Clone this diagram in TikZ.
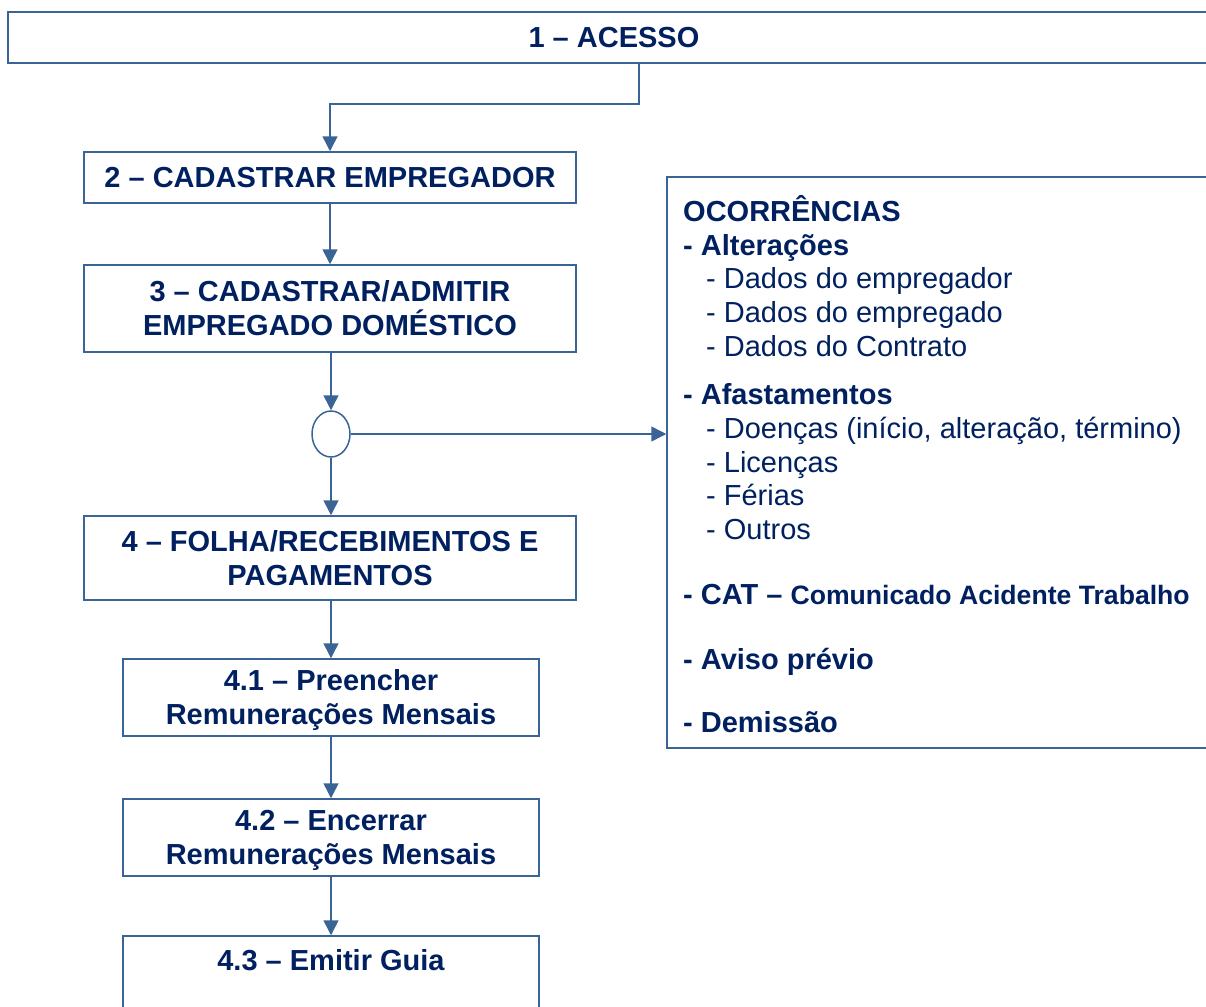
\documentclass[tikz,border=0pt]{standalone}
\usepackage{fontspec}
\setmainfont{Liberation Sans}
\usetikzlibrary{shapes.geometric,arrows.meta}
\definecolor{navy}{HTML}{002060}
\definecolor{linha}{HTML}{3A6496}
\begin{document}
\begin{tikzpicture}[x=1pt,y=-1pt,
        caixa/.style={draw=linha,line width=1.5pt,text=navy,align=center,inner sep=0pt,font=\fontsize{29}{34}\selectfont\bfseries},
        item/.style={anchor=base west,text=navy,inner sep=0pt,font=\fontsize{29}{34}\selectfont},
        titulo/.style={item,font=\fontsize{29}{34}\selectfont\bfseries},
        seta/.style={draw=linha,line width=1.5pt,-{Triangle[length=15pt,width=15pt]}}]
    \useasboundingbox (0,0) rectangle (1206,1006);
    % fluxo principal
    \node (acesso) at (614,37.5) [caixa,minimum width=1212,minimum height=51] {1 – ACESSO};
    \node (cademp) at (330,177.5) [caixa,minimum width=492,minimum height=51] {2 – CADASTRAR EMPREGADOR};
    \node (cadempd) at (330,308.5) [caixa,minimum width=492,minimum height=87] {3 – CADASTRAR/ADMITIR\\EMPREGADO DOMÉSTICO};
    \node (circ) at (331,434) [ellipse,draw=linha,line width=1.5pt,minimum width=38,minimum height=46,inner sep=0pt] {};
    \node (folha) at (330,558) [caixa,minimum width=492,minimum height=84] {4 – FOLHA/RECEBIMENTOS E\\PAGAMENTOS};
    \node (preenc) at (331,697.5) [caixa,minimum width=416,minimum height=77] {\rule{0pt}{0.9em}4.1 – Preencher\\Remunerações Mensais};
    \node (encerr) at (331,837.5) [caixa,minimum width=416,minimum height=77] {\rule{0pt}{0.9em}4.2 – Encerrar\\Remunerações Mensais};
    \node (guia) at (331,974.5) [caixa,minimum width=416,minimum height=77] {\rule{0pt}{0.9em}4.3 – Emitir Guia\\\mbox{}};
    % ocorrencias
    \node (ocorr) at (943.5,462.5) [draw=linha,line width=1.5pt,minimum width=553,minimum height=571] {};
    \node (t-ocorr) at (683,221) [titulo] {OCORRÊNCIAS};
    \node (t-alter) at (683,255) [titulo] {- Alterações};
    \node (t-alt1) at (706,288) [item] {- Dados do empregador};
    \node (t-alt2) at (706,322) [item] {- Dados do empregado};
    \node (t-alt3) at (706,356) [item] {- Dados do Contrato};
    \node (t-afast) at (683,404) [titulo] {- Afastamentos};
    \node (t-afa1) at (706,438) [item] {- Doenças (início, alteração, término)};
    \node (t-afa2) at (706,472) [item] {- Licenças};
    \node (t-afa3) at (706,505) [item] {- Férias};
    \node (t-afa4) at (706,539) [item] {- Outros};
    \node (t-cat) at (683,604) [titulo] {- CAT – {\fontsize{26.6}{34}\selectfont Comunicado Acidente Trabalho}};
    \node (t-aviso) at (683,669) [titulo] {- Aviso prévio};
    \node (t-demis) at (683,732) [titulo] {- Demissão};
    % conectores
    \coordinate (dobra) at (639,104);
    \draw[seta] (acesso.south -| dobra) -- (dobra) -| (cademp.north);
    \draw[seta] (cademp) -- (cadempd);
    \draw[seta] (cadempd.south -| circ) -- (circ);
    \draw[seta] (circ) -- (folha.north -| circ);
    \draw[seta] (circ.east) -- (circ.east -| ocorr.west);
    \draw[seta] (folha.south -| preenc) -- (preenc);
    \draw[seta] (preenc) -- (encerr);
    \draw[seta] (encerr) -- (guia);
\end{tikzpicture}
\end{document}
